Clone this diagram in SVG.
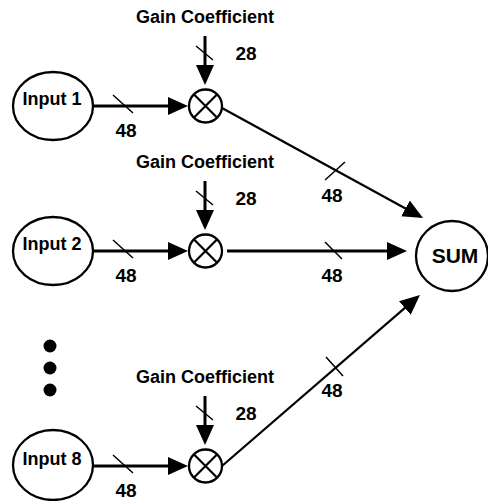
<svg xmlns="http://www.w3.org/2000/svg" width="488" height="501" viewBox="0 0 488 501">
<style>
text{font-family:"Liberation Sans",Arial,Helvetica,sans-serif;font-weight:bold;font-size:18px;fill:#000;text-anchor:middle}
.num{font-size:19px}
.node{fill:#fff;stroke:#000;stroke-width:2.3}
.thick{stroke:#000;stroke-width:3;fill:none}
.thin{stroke:#000;stroke-width:2.2;fill:none}
.tick{stroke:#000;stroke-width:1.5;fill:none}
</style>
<defs>
<marker id="ah" markerUnits="userSpaceOnUse" markerWidth="20" markerHeight="18" refX="12" refY="9" orient="auto">
<path d="M0,0 L20,9 L0,18 z" fill="#000"/>
</marker>
</defs>
<g id="input1"><ellipse class="node" cx="53" cy="106" rx="40" ry="34"/><text x="52" y="105">Input 1</text></g>
<g id="input2"><ellipse class="node" cx="53" cy="251" rx="40" ry="34"/><text x="52" y="250">Input 2</text></g>
<g id="input8"><ellipse class="node" cx="53" cy="465" rx="40" ry="35"/><text x="52" y="465">Input 8</text></g>
<g id="dots"><circle cx="50" cy="346" r="6.5"/><circle cx="50" cy="368" r="6.5"/><circle cx="50" cy="390" r="6.5"/></g>
<g id="mult1"><circle class="node" cx="205.5" cy="106" r="16.5"/><path class="thin" d="M193.8,94.3 L217.2,117.7 M217.2,94.3 L193.8,117.7"/></g>
<g id="mult2"><circle class="node" cx="205.5" cy="251" r="16.5"/><path class="thin" d="M193.8,239.3 L217.2,262.7 M217.2,239.3 L193.8,262.7"/></g>
<g id="mult8"><circle class="node" cx="205.5" cy="466" r="16.5"/><path class="thin" d="M193.8,454.3 L217.2,477.7 M217.2,454.3 L193.8,477.7"/></g>
<g id="sum"><ellipse class="node" cx="452" cy="256" rx="36" ry="35"/><text x="455" y="263" style="font-size:21px">SUM</text></g>
<g id="gain1"><text x="205" y="23">Gain Coefficient</text><text class="num" x="246" y="60">28</text></g>
<g id="gain2"><text x="205" y="168">Gain Coefficient</text><text class="num" x="246" y="205">28</text></g>
<g id="gain8"><text x="205" y="383">Gain Coefficient</text><text class="num" x="246" y="420">28</text></g>
<g id="connectors">
<line class="thick" x1="93" y1="106" x2="180" y2="106" marker-end="url(#ah)"/>
<line class="thick" x1="93" y1="251" x2="180" y2="251" marker-end="url(#ah)"/>
<line class="thick" x1="93" y1="466" x2="180" y2="466" marker-end="url(#ah)"/>
<line class="thick" x1="205" y1="36" x2="205" y2="77" marker-end="url(#ah)"/>
<line class="thick" x1="205" y1="181" x2="205" y2="222" marker-end="url(#ah)"/>
<line class="thick" x1="205" y1="396" x2="205" y2="437" marker-end="url(#ah)"/>
<line class="thin" x1="222" y1="108" x2="416" y2="214.2" marker-end="url(#ah)"/>
<line class="thick" x1="227" y1="251" x2="399" y2="251" marker-end="url(#ah)"/>
<line class="thin" x1="222" y1="466" x2="413.9" y2="300.2" marker-end="url(#ah)"/>
<path class="tick" d="M113,95 L133,113 M113,240 L133,258 M113,455 L133,473"/>
<path class="tick" d="M196,46 L213,60 M196,191 L213,205 M196,406 L213,420"/>
<path class="tick" d="M325,180 L345,162 M325,242 L342,259 M326,357 L343,376"/>
<text class="num" x="126" y="137">48</text>
<text class="num" x="126" y="282">48</text>
<text class="num" x="126" y="497">48</text>
<text class="num" x="332" y="202">48</text>
<text class="num" x="332" y="282">48</text>
<text class="num" x="332" y="397">48</text>
</g>
</svg>
